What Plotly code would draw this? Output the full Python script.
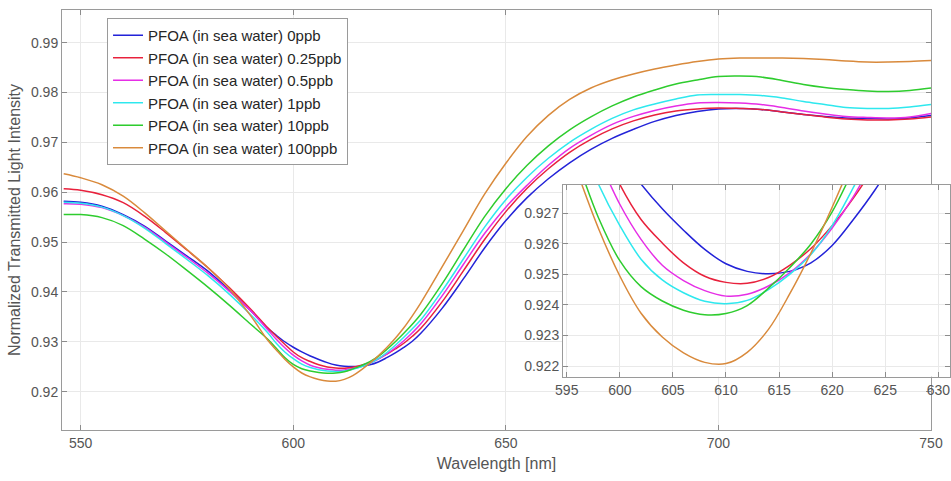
import plotly.graph_objects as go

# ---------------- data ----------------
wavelength = [546, 550, 555, 560, 565, 570, 575, 580, 585, 590,
              594, 596, 598, 600, 602, 604, 606, 608, 610, 612, 614, 616, 618,
              620, 622, 624, 626, 628, 630,
              635, 640, 645, 650, 655, 660, 665, 670, 675, 680, 685, 690, 695,
              700, 705, 710, 715, 720, 725, 730, 735, 740, 745, 750]

pfoa_0ppb = [0.9582, 0.9580, 0.9572, 0.9555, 0.9532, 0.9502, 0.9472, 0.9441, 0.9403, 0.9362,
             0.9327, 0.9313, 0.9300, 0.9289, 0.92796, 0.92715, 0.92645, 0.92582, 0.92535, 0.92510,
             0.92502, 0.92510, 0.92538, 0.92595, 0.92680, 0.92775, 0.92885, 0.9301, 0.9317,
             0.9367, 0.9426, 0.9488, 0.9543, 0.9589, 0.9627, 0.9659, 0.9686, 0.9708, 0.9726,
             0.9742, 0.9754, 0.9762, 0.9767, 0.9768, 0.9766, 0.9761, 0.9756, 0.9752, 0.9749,
             0.9748, 0.9747, 0.9749, 0.9754]

pfoa_025ppb = [0.9607, 0.9604, 0.9595, 0.9579, 0.9552, 0.9519, 0.9484, 0.9448, 0.9408, 0.9365,
               0.9328, 0.9311, 0.9295, 0.92795, 0.92680, 0.92603, 0.92538, 0.92494, 0.92474, 0.92471,
               0.92490, 0.92530, 0.92585, 0.92660, 0.92750, 0.92855, 0.9297, 0.9311, 0.9327,
               0.9380, 0.9442, 0.9505, 0.9561, 0.9608, 0.9647, 0.9680, 0.9706, 0.9727, 0.9743,
               0.9755, 0.9763, 0.9767, 0.9769, 0.9768, 0.9766, 0.9761, 0.9756, 0.9751, 0.9747,
               0.9745, 0.9745, 0.9747, 0.9751]

pfoa_05ppb = [0.9577, 0.9576, 0.9569, 0.9553, 0.9530, 0.9500, 0.9469, 0.9437, 0.9401, 0.9362,
              0.9324, 0.9305, 0.9288, 0.9273, 0.92615, 0.92530, 0.92480, 0.92447, 0.92429, 0.92435,
              0.92462, 0.92505, 0.92568, 0.92652, 0.92755, 0.9288, 0.9302, 0.9318, 0.9336,
              0.9392, 0.9455, 0.9517, 0.9570, 0.9614, 0.9654, 0.9688, 0.9714, 0.9736, 0.9752,
              0.9764, 0.9773, 0.9779, 0.9780, 0.9779, 0.9776, 0.9770, 0.9763, 0.9757, 0.9752,
              0.9750, 0.9749, 0.9751, 0.9758]

pfoa_1ppb = [0.9580, 0.9578, 0.9570, 0.9553, 0.9528, 0.9497, 0.9465, 0.9432, 0.9395, 0.9354,
             0.9318, 0.9297, 0.92795, 0.92660, 0.92550, 0.92482, 0.92440, 0.92412, 0.92404, 0.92415,
             0.92450, 0.92500, 0.92565, 0.92660, 0.92785, 0.9293, 0.9309, 0.9326, 0.9344,
             0.9402, 0.9466, 0.9530, 0.9585, 0.9630, 0.9668, 0.9700, 0.9726, 0.9748, 0.9765,
             0.9777, 0.9787, 0.9795, 0.9796, 0.9796, 0.9794, 0.9789, 0.9782, 0.9776, 0.9770,
             0.9768, 0.9768, 0.9771, 0.9776]

pfoa_10ppb = [0.9555, 0.9555, 0.9549, 0.9533, 0.9506, 0.9476, 0.9443, 0.9409, 0.9373, 0.9335,
              0.9305, 0.9287, 0.92685, 0.92545, 0.92460, 0.92413, 0.92383, 0.92368, 0.92372, 0.92398,
              0.92455, 0.92522, 0.92600, 0.92705, 0.92845, 0.9300, 0.9317, 0.9335, 0.9355,
              0.9416, 0.9484, 0.9551, 0.9607, 0.9654, 0.9693, 0.9725, 0.9751, 0.9773, 0.9791,
              0.9805, 0.9817, 0.9825, 0.9832, 0.9833, 0.9831, 0.9824, 0.9816, 0.9810, 0.9806,
              0.9803, 0.9802, 0.9804, 0.9809]

pfoa_100ppb = [0.9637, 0.9629, 0.9615, 0.9592, 0.9559, 0.9522, 0.9485, 0.9448, 0.9406, 0.9352,
               0.9303, 0.92835, 0.92650, 0.92495, 0.92373, 0.92295, 0.92243, 0.92212, 0.92208, 0.92245,
               0.92320, 0.92436, 0.92570, 0.92720, 0.92885, 0.9307, 0.9328, 0.9352, 0.9378,
               0.9450, 0.9523, 0.9596, 0.9658, 0.9712, 0.9754, 0.9786, 0.9809, 0.9825, 0.9837,
               0.9847, 0.9855, 0.9862, 0.9867, 0.9869, 0.9869, 0.9869, 0.9868, 0.9866, 0.9863,
               0.9861, 0.9861, 0.9862, 0.9864]

series_names = ["PFOA (in sea water) 0ppb", "PFOA (in sea water) 0.25ppb",
                "PFOA (in sea water) 0.5ppb", "PFOA (in sea water) 1ppb",
                "PFOA (in sea water) 10ppb", "PFOA (in sea water) 100ppb"]
series_values = [pfoa_0ppb, pfoa_025ppb, pfoa_05ppb, pfoa_1ppb, pfoa_10ppb, pfoa_100ppb]
series_colors = ["#2323d8", "#e8213c", "#e62ee6", "#2ee8ee", "#2ecc2e", "#d98a3c"]

main_xticks = [550, 600, 650, 700, 750]
main_yticks = [0.92, 0.93, 0.94, 0.95, 0.96, 0.97, 0.98, 0.99]
inset_xticks = [595, 600, 605, 610, 615, 620, 625, 630]
inset_yticks = [0.922, 0.923, 0.924, 0.925, 0.926, 0.927]

# ---------------- figure ----------------
fig = go.Figure()

for name, vals, col in zip(series_names, series_values, series_colors):
    fig.add_trace(go.Scatter(x=wavelength, y=vals, mode="lines", name=name,
                             legendgroup=name,
                             line=dict(color=col, width=1.5, shape="spline", smoothing=1.0),
                             xaxis="x", yaxis="y"))
for name, vals, col in zip(series_names, series_values, series_colors):
    fig.add_trace(go.Scatter(x=wavelength, y=vals, mode="lines", name=name,
                             legendgroup=name, showlegend=False,
                             line=dict(color=col, width=1.5, shape="spline", smoothing=1.0),
                             xaxis="x2", yaxis="y2"))

axis_common = dict(ticks="inside", ticklen=5, tickcolor="#8c8c8c", showline=True,
                   linecolor="#9a9a9a", linewidth=1, mirror="ticks", showgrid=True,
                   gridcolor="#e9e9e9", gridwidth=1, zeroline=False,
                   tickfont=dict(size=14, color="#555555"))

fig.update_layout(
    width=951, height=481,
    margin=dict(l=62, r=1, t=10, b=51, pad=0),
    paper_bgcolor="white", plot_bgcolor="white",
    font=dict(family="Liberation Sans, Arial, sans-serif", size=14, color="#555555"),
    xaxis=dict(domain=[0, 0.9786], range=[545.6, 750], tickvals=main_xticks,
               anchor="y", automargin=False,
               title=dict(text="Wavelength [nm]", standoff=8,
                          font=dict(size=16, color="#555555")),
               **axis_common),
    yaxis=dict(domain=[0, 1], range=[0.9123, 0.99654], tickvals=main_yticks,
               tickformat=".2f", anchor="x", automargin=False,
               title=dict(text="Normalized Transmitted Light Intensity", standoff=6,
                          font=dict(size=16, color="#555555")),
               **axis_common),
    xaxis2=dict(domain=[0.5642, 1.0], range=[594.65, 631.1], tickvals=inset_xticks,
                anchor="y2", automargin=False, **axis_common),
    yaxis2=dict(domain=[0.1269, 0.5833], range=[0.92165, 0.92793], tickvals=inset_yticks,
                tickformat=".3f", anchor="x2", automargin=False, **axis_common),
    legend=dict(x=0.0507, y=0.981, xanchor="left", yanchor="top",
                bgcolor="white", bordercolor="#9a9a9a", borderwidth=1,
                font=dict(size=15, color="#262626"),
                traceorder="grouped", tracegroupgap=0),
    showlegend=True,
)

fig.write_html("out.html")
